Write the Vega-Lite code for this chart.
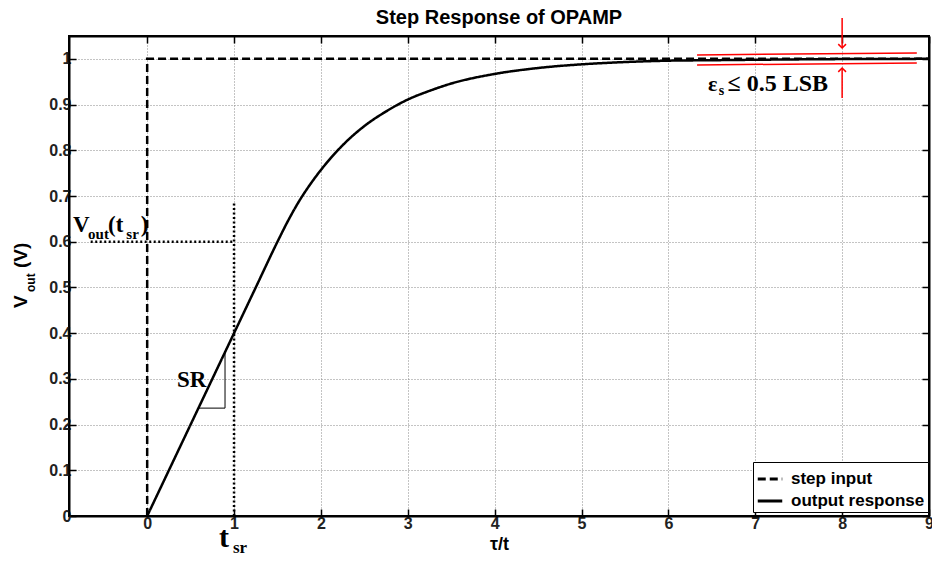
{
  "$schema": "https://vega.github.io/schema/vega-lite/v6.json",
  "width": 860,
  "height": 480,
  "autosize": {"type": "none"},
  "padding": {"left": 69, "top": 36, "right": 3, "bottom": 45},
  "background": "white",
  "title": {"text": "Step Response of OPAMP", "fontSize": 20, "font": "Liberation Sans", "fontWeight": "bold", "color": "black", "offset": -11, "anchor": "middle"},
  "config": {
    "view": {"stroke": "black", "strokeWidth": 2},
    "axis": {
      "domainColor": "black", "domainWidth": 2, "tickColor": "black", "tickWidth": 1.5, "tickSize": -7,
      "labelFont": "Liberation Sans", "labelFontSize": 16, "labelFontWeight": "bold", "labelColor": "#222",
      "gridColor": "#888", "gridDash": [1, 2], "gridWidth": 1, "gridOpacity": 1,
      "titleFont": "Liberation Sans", "titleFontWeight": "bold", "titleColor": "black",
      "labelOverlap": false, "labelFlush": false, "labelBound": false
    }
  },
  "datasets": {
    "step": [
      {"series": "step input", "i": 0, "x": 0, "y": 0},
      {"series": "step input", "i": 1, "x": 0, "y": 1},
      {"series": "step input", "i": 2, "x": 9, "y": 1}
    ],
    "response": [
      {"series": "output response", "x": 0, "y": 0},
      {"series": "output response", "x": 0.5, "y": 0.2},
      {"series": "output response", "x": 1, "y": 0.4},
      {"series": "output response", "x": 1.25, "y": 0.5},
      {"series": "output response", "x": 1.5, "y": 0.6},
      {"series": "output response", "x": 1.625, "y": 0.647},
      {"series": "output response", "x": 1.75, "y": 0.689},
      {"series": "output response", "x": 1.875, "y": 0.725},
      {"series": "output response", "x": 2, "y": 0.757},
      {"series": "output response", "x": 2.25, "y": 0.811},
      {"series": "output response", "x": 2.5, "y": 0.853},
      {"series": "output response", "x": 2.75, "y": 0.885},
      {"series": "output response", "x": 3, "y": 0.911},
      {"series": "output response", "x": 3.25, "y": 0.93},
      {"series": "output response", "x": 3.5, "y": 0.946},
      {"series": "output response", "x": 4, "y": 0.967},
      {"series": "output response", "x": 4.5, "y": 0.98},
      {"series": "output response", "x": 5, "y": 0.988},
      {"series": "output response", "x": 5.5, "y": 0.993},
      {"series": "output response", "x": 6, "y": 0.996},
      {"series": "output response", "x": 6.5, "y": 0.997},
      {"series": "output response", "x": 7, "y": 0.998},
      {"series": "output response", "x": 8, "y": 0.9995},
      {"series": "output response", "x": 9, "y": 1.0}
    ]
  },
  "layer": [
    {
      "data": {"name": "step"},
      "mark": {"type": "line", "color": "black", "strokeWidth": 2.5},
      "encoding": {
        "x": {"field": "x", "type": "quantitative", "scale": {"domain": [-0.9, 9], "nice": false, "zero": false},
              "axis": {"values": [0,1,2,3,4,5,6,7,8,9], "title": "τ/t", "titleFontSize": 18, "grid": true, "labelPadding": 6, "titlePadding": 4}},
        "y": {"field": "y", "type": "quantitative", "scale": {"domain": [0, 1.05], "nice": false},
              "axis": {"values": [0,0.1,0.2,0.3,0.4,0.5,0.6,0.7,0.8,0.9,1], "format": "~g", "title": null, "grid": true, "labelPadding": 5}},
        "order": {"field": "i", "type": "quantitative"},
        "strokeDash": {"field": "series", "type": "nominal",
          "scale": {"domain": ["step input", "output response"], "range": [[8, 4], [1, 0]]},
          "legend": {"title": null, "orient": "none", "legendX": 684, "legendY": 426, "strokeColor": "black", "fillColor": "white",
                     "padding": 3, "labelFont": "Liberation Sans", "labelFontSize": 17, "labelFontWeight": "bold", "labelColor": "black",
                     "symbolType": "stroke", "symbolStrokeWidth": 3, "symbolSize": 600, "symbolStrokeColor": "black", "rowPadding": 0, "cornerRadius": 0, "labelOffset": 7}}
      }
    },
    {
      "data": {"name": "response"},
      "mark": {"type": "line", "color": "black", "strokeWidth": 2.5, "interpolate": "monotone"},
      "encoding": {
        "x": {"field": "x", "type": "quantitative", "axis": null},
        "y": {"field": "y", "type": "quantitative", "axis": null},
        "strokeDash": {"field": "series", "type": "nominal"}
      }
    },
    {
      "data": {"values": [
        {"x": 1, "y": 0, "x2": 1, "y2": 0.685},
        {"x": -0.65, "y": 0.6, "x2": 1, "y2": 0.6}
      ]},
      "mark": {"type": "rule", "color": "black", "strokeWidth": 2.5, "strokeDash": [2, 2.5]},
      "encoding": {
        "x": {"field": "x", "type": "quantitative", "axis": {"orient": "top", "labels": false, "title": null, "grid": false, "values": [0,1,2,3,4,5,6,7,8,9]}},
        "y": {"field": "y", "type": "quantitative", "axis": {"orient": "right", "labels": false, "title": null, "grid": false, "values": [0,0.1,0.2,0.3,0.4,0.5,0.6,0.7,0.8,0.9,1]}},
        "x2": {"field": "x2"},
        "y2": {"field": "y2"}
      }
    },
    {
      "data": {"values": [
        {"x": 0.896, "y": 0.357, "x2": 0.896, "y2": 0.236},
        {"x": 0.59, "y": 0.236, "x2": 0.896, "y2": 0.236}
      ]},
      "mark": {"type": "rule", "color": "black", "strokeWidth": 1},
      "encoding": {
        "x": {"field": "x", "type": "quantitative", "axis": null},
        "y": {"field": "y", "type": "quantitative", "axis": null},
        "x2": {"field": "x2"},
        "y2": {"field": "y2"}
      }
    },
    {
      "data": {"values": [
        {"x": 6.33, "y": 1.0085, "x2": 8.86, "y2": 1.013},
        {"x": 6.33, "y": 0.9866, "x2": 8.86, "y2": 0.991},
        {"x": 8.0, "y": 1.0895, "x2": 8.0, "y2": 1.0238},
        {"x": 8.0, "y": 0.98, "x2": 8.0, "y2": 0.9145}
      ]},
      "mark": {"type": "rule", "color": "#ff0000", "strokeWidth": 1.5, "clip": false},
      "encoding": {
        "x": {"field": "x", "type": "quantitative", "axis": null},
        "y": {"field": "y", "type": "quantitative", "axis": null},
        "x2": {"field": "x2"},
        "y2": {"field": "y2"}
      }
    },
    {
      "data": {"values": [{"x": 8.0, "y": 1.0238}]},
      "mark": {"type": "point", "shape": "M -1 -1 L 0 0 L 1 -1", "filled": false, "stroke": "#ff0000", "strokeWidth": 1.5, "size": 60, "opacity": 1},
      "encoding": {
        "x": {"field": "x", "type": "quantitative", "axis": null},
        "y": {"field": "y", "type": "quantitative", "axis": null}
      }
    },
    {
      "data": {"values": [{"x": 8.0, "y": 0.98}]},
      "mark": {"type": "point", "shape": "M -1 1 L 0 0 L 1 1", "filled": false, "stroke": "#ff0000", "strokeWidth": 1.5, "size": 60, "opacity": 1},
      "encoding": {
        "x": {"field": "x", "type": "quantitative", "axis": null},
        "y": {"field": "y", "type": "quantitative", "axis": null}
      }
    },
    {
      "data": {"values": [{"x": -0.854, "y": 0.621, "t": "V"}, {"x": -0.45, "y": 0.621, "t": "(t"}, {"x": -0.075, "y": 0.621, "t": ")"}, {"x": 0.343, "y": 0.282, "t": "SR"}]},
      "mark": {"type": "text", "font": "Liberation Serif", "fontWeight": "bold", "fontSize": 23, "align": "left", "baseline": "alphabetic", "color": "black", "clip": false},
      "encoding": {
        "x": {"field": "x", "type": "quantitative", "axis": null},
        "y": {"field": "y", "type": "quantitative", "axis": null},
        "text": {"field": "t"}
      }
    },
    {
      "data": {"values": [{"x": -0.68, "y": 0.607, "t": "out"}, {"x": -0.24, "y": 0.607, "t": "sr"}]},
      "mark": {"type": "text", "font": "Liberation Serif", "fontWeight": "bold", "fontSize": 15, "align": "left", "baseline": "alphabetic", "color": "black", "clip": false},
      "encoding": {
        "x": {"field": "x", "type": "quantitative", "axis": null},
        "y": {"field": "y", "type": "quantitative", "axis": null},
        "text": {"field": "t"}
      }
    },
    {
      "data": {"values": [{"x": 0.827, "y": -0.068, "t": "t"}]},
      "mark": {"type": "text", "font": "Liberation Serif", "fontWeight": "bold", "fontSize": 30, "align": "left", "baseline": "alphabetic", "color": "black", "clip": false},
      "encoding": {
        "x": {"field": "x", "type": "quantitative", "axis": null},
        "y": {"field": "y", "type": "quantitative", "axis": null},
        "text": {"field": "t"}
      }
    },
    {
      "data": {"values": [{"x": 0.988, "y": -0.081, "t": "sr"}]},
      "mark": {"type": "text", "font": "Liberation Serif", "fontWeight": "bold", "fontSize": 17, "align": "left", "baseline": "alphabetic", "color": "black", "clip": false},
      "encoding": {
        "x": {"field": "x", "type": "quantitative", "axis": null},
        "y": {"field": "y", "type": "quantitative", "axis": null},
        "text": {"field": "t"}
      }
    },
    {
      "data": {"values": [{"x": 6.456, "y": 0.93, "t": "ε"}]},
      "mark": {"type": "text", "font": "Liberation Serif", "fontWeight": "bold", "fontSize": 22, "align": "left", "baseline": "alphabetic", "color": "black"},
      "encoding": {
        "x": {"field": "x", "type": "quantitative", "axis": null},
        "y": {"field": "y", "type": "quantitative", "axis": null},
        "text": {"field": "t"}
      }
    },
    {
      "data": {"values": [{"x": 6.58, "y": 0.922, "t": "s"}]},
      "mark": {"type": "text", "font": "Liberation Serif", "fontWeight": "bold", "fontSize": 14, "align": "left", "baseline": "alphabetic", "color": "black"},
      "encoding": {
        "x": {"field": "x", "type": "quantitative", "axis": null},
        "y": {"field": "y", "type": "quantitative", "axis": null},
        "text": {"field": "t"}
      }
    },
    {
      "data": {"values": [{"x": 6.68, "y": 0.93, "t": "≤ 0.5 LSB"}]},
      "mark": {"type": "text", "font": "Liberation Serif", "fontWeight": "bold", "fontSize": 24, "align": "left", "baseline": "alphabetic", "color": "black"},
      "encoding": {
        "x": {"field": "x", "type": "quantitative", "axis": null},
        "y": {"field": "y", "type": "quantitative", "axis": null},
        "text": {"field": "t"}
      }
    },
    {
      "data": {"values": [{"x": -1.384, "y": 0.455, "t": "V"}, {"x": -1.384, "y": 0.5426, "t": "(V)"}]},
      "mark": {"type": "text", "font": "Liberation Sans", "fontWeight": "bold", "fontSize": 19, "align": "left", "baseline": "alphabetic", "angle": 270, "color": "black", "clip": false},
      "encoding": {
        "x": {"field": "x", "type": "quantitative", "axis": null},
        "y": {"field": "y", "type": "quantitative", "axis": null},
        "text": {"field": "t"}
      }
    },
    {
      "data": {"values": [{"x": -1.292, "y": 0.49, "t": "out"}]},
      "mark": {"type": "text", "font": "Liberation Sans", "fontWeight": "bold", "fontSize": 12, "align": "left", "baseline": "alphabetic", "angle": 270, "color": "black", "clip": false},
      "encoding": {
        "x": {"field": "x", "type": "quantitative", "axis": null},
        "y": {"field": "y", "type": "quantitative", "axis": null},
        "text": {"field": "t"}
      }
    }
  ],
  "resolve": {"axis": {"x": "independent", "y": "independent"}}
}
